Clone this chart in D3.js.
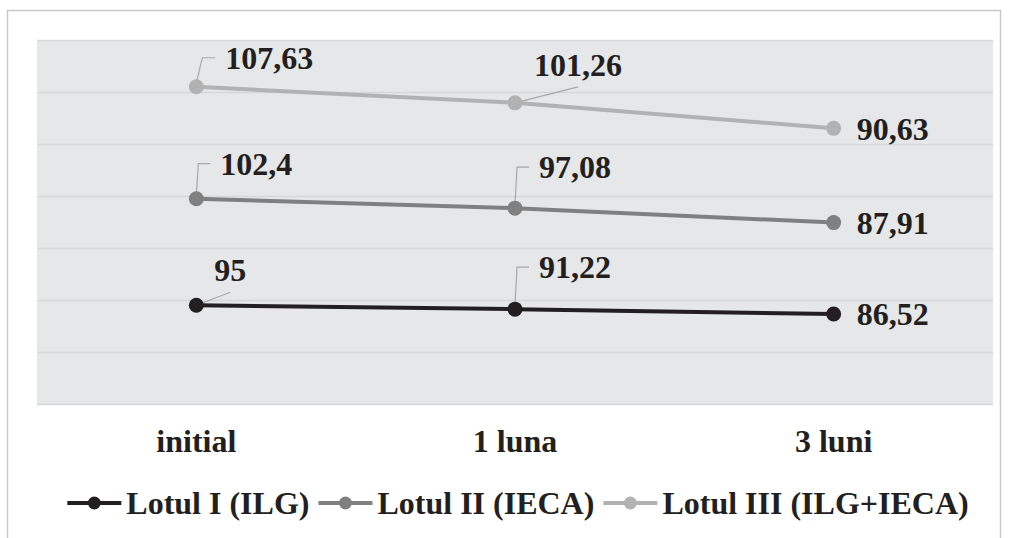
<!DOCTYPE html>
<html>
<head>
<meta charset="utf-8">
<script src="https://cdn.jsdelivr.net/npm/d3@7"></script>
<style>
  body { margin: 0; background: #fff; }
  svg text { font-family: "Liberation Serif", "Times New Roman", serif; font-weight: bold; fill: #231f20; }
</style>
</head>
<body>
<div id="my_dataviz"></div>
<script>
// chart values
var categories = ["initial", "1 luna", "3 luni"];
var seriesNames = ["Lotul I (ILG)", "Lotul II (IECA)", "Lotul III (ILG+IECA)"];
var lotul1 = [95, 91.22, 86.52];
var lotul2 = [102.4, 97.08, 87.91];
var lotul3 = [107.63, 101.26, 90.63];
var yTicks = [0, 50, 100, 150, 200, 250, 300, 350];

var colors = ["#231f20", "#808080", "#b2b2b2"];

// label placement: [dx, dy, leader] relative to the point
var labelPlace = [
  [[18, -24, "diag"], [24, -31, "elbow"], [23, 11, "none"]],
  [[24, -24, "elbow"], [24, -30, "elbow"], [23, 11, "none"]],
  [[29, -18, "elbow"], [19, -27, "diag"], [23, 12, "none"]]
];

var width = 1012, height = 538;
var plot = {left: 37, right: 993, top: 40, bottom: 404};
var fontSize = "32px";

var svg = d3.select("#my_dataviz")
  .append("svg")
    .attr("width", width)
    .attr("height", height);

// outer frame
svg.append("rect")
  .attr("x", 7.5).attr("y", 10.5)
  .attr("width", 993).attr("height", 545)
  .attr("fill", "none")
  .attr("stroke", "#c9c9c9")
  .attr("stroke-width", 1.5);

// build stacked data
var rows = categories.map(function(c, i) {
  return {cat: c, s0: lotul1[i], s1: lotul2[i], s2: lotul3[i]};
});
var keys = ["s0", "s1", "s2"];
var stacked = d3.stack().keys(keys)(rows);
var raw = [lotul1, lotul2, lotul3];

var x = d3.scaleBand()
  .domain(categories)
  .range([plot.left, plot.right]);
var cx = function(c) { return x(c) + x.bandwidth() / 2; };

var y = d3.scaleLinear()
  .domain([0, 350])
  .range([plot.bottom, plot.top]);

// plot background
svg.append("rect")
  .attr("x", plot.left).attr("y", plot.top)
  .attr("width", plot.right - plot.left)
  .attr("height", plot.bottom - plot.top)
  .attr("fill", "#e6e7e8");

// gridlines
svg.append("g")
  .attr("transform", "translate(" + plot.left + ",0)")
  .call(d3.axisLeft(y).tickValues(yTicks).tickSize(-(plot.right - plot.left)).tickFormat(""))
  .call(function(g) { g.select(".domain").remove(); })
  .selectAll("line")
    .attr("stroke", "#d5d6d8")
    .attr("stroke-width", 1.5);

// category labels
var xAxis = svg.append("g")
  .attr("transform", "translate(0," + plot.bottom + ")")
  .call(d3.axisBottom(x).tickSize(0).tickPadding(0));
xAxis.select(".domain").remove();
xAxis.selectAll("text")
  .attr("dy", null)
  .attr("y", 48)
  .style("font-size", fontSize)
  .style("font-family", "'Liberation Serif', serif")
  .style("font-weight", "bold")
  .attr("fill", "#231f20");

var line = d3.line()
  .x(function(d) { return cx(d.data.cat); })
  .y(function(d) { return y(d[1]); });

// leader lines
var fmt = function(v) { return String(v).replace(".", ","); };
var leaders = svg.append("g");
var labels = svg.append("g");

stacked.forEach(function(s, si) {
  s.forEach(function(d, ci) {
    var px = cx(d.data.cat), py = y(d[1]);
    var p = labelPlace[si][ci];
    var tx = px + p[0], ty = py + p[1];
    var t = labels.append("text")
      .attr("x", tx).attr("y", ty)
      .style("font-size", fontSize)
      .text(fmt(raw[si][ci]));
    var w = t.node().getComputedTextLength();
    if (p[2] === "elbow") {
      var slant = si === 2 ? 6 : 2;
      leaders.append("path")
        .attr("d", "M" + px + "," + (py - 4) + "L" + (px + slant) + "," + (ty - 11) + "L" + (tx - 10) + "," + (ty - 11))
        .attr("fill", "none")
        .attr("stroke", "#a8a8a8")
        .attr("stroke-width", 1.2);
    } else if (p[2] === "diag") {
      leaders.append("path")
        .attr("d", "M" + px + "," + py + "L" + (tx + w / 2) + "," + (ty + 11))
        .attr("fill", "none")
        .attr("stroke", "#a8a8a8")
        .attr("stroke-width", 1.2);
    }
  });
});

// lines and markers
stacked.forEach(function(s, si) {
  svg.append("path")
    .datum(s)
    .attr("d", line)
    .attr("fill", "none")
    .attr("stroke", colors[si])
    .attr("stroke-width", 4);
  svg.selectAll("circle.m" + si)
    .data(s)
    .enter()
    .append("circle")
      .attr("class", "m" + si)
      .attr("cx", function(d) { return cx(d.data.cat); })
      .attr("cy", function(d) { return y(d[1]); })
      .attr("r", 7.5)
      .attr("fill", colors[si]);
});

labels.raise();

// legend
var legend = svg.append("g");
var lx = 0;
seriesNames.forEach(function(name, i) {
  var g = legend.append("g").attr("transform", "translate(" + lx + ",0)");
  g.append("line")
    .attr("x1", 0).attr("x2", 54)
    .attr("y1", 0).attr("y2", 0)
    .attr("stroke", colors[i])
    .attr("stroke-width", 4);
  g.append("circle")
    .attr("cx", 27).attr("cy", 0).attr("r", 6.5)
    .attr("fill", colors[i]);
  var t = g.append("text")
    .attr("x", 59).attr("y", 11)
    .style("font-size", fontSize)
    .text(name);
  lx += 59 + t.node().getComputedTextLength() + 9;
});
lx -= 9;
legend.attr("transform", "translate(" + (518 - lx / 2) + ",503)");
</script>
</body>
</html>
